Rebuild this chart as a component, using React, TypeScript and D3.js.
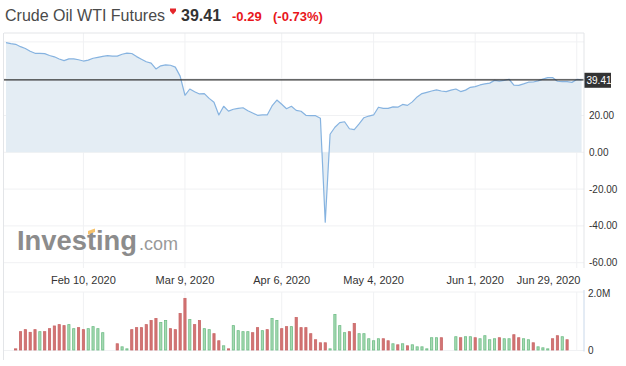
import React from "react";
import * as d3 from "d3";

// Price series (one value per chart row / trading session)
const prices: number[] = [
  59.6, 59.1, 58.7, 57.4, 56.4, 54.9, 53.8, 53.8, 53.6, 52.6,
  51.9, 50.7, 49.8, 50.8, 50.8, 50.3, 49.6, 50.1, 51.1, 51.6,
  52.1, 52.5, 52.3, 52.3, 53.3, 53.9, 53.7, 52.0, 50.6, 49.2,
  48.5, 45.3, 47.0, 47.5, 47.3, 46.3, 41.4, 31.0, 34.4, 32.9,
  31.7, 31.9, 29.3, 27.2, 20.3, 25.0, 22.4, 23.4, 23.9, 24.2,
  22.6, 21.4, 20.1, 20.3, 20.3, 25.2, 28.4, 26.1, 23.7, 25.0,
  22.8, 22.3, 20.1, 19.9, 19.9, 18.5, -38.0, 9.8, 13.6, 16.1,
  16.6, 12.8, 12.3, 15.4, 18.8, 19.7, 20.3, 24.5, 23.9, 23.9,
  24.7, 24.5, 26.0, 25.5, 27.4, 30.1, 31.9, 32.6, 33.3, 33.9,
  33.3, 33.0, 33.8, 34.4, 33.0, 33.8, 35.3, 35.7, 36.6, 37.2,
  37.6, 39.1, 38.7, 39.1, 39.7, 36.5, 36.4, 37.2, 38.1, 38.2,
  38.8, 39.8, 40.6, 40.6, 38.6, 38.4, 38.4, 38.0, 39.6, 39.41,
];

// Volume in millions (null = no bar)
const volumes: (number | null)[] = [
  null, null, 0.057, 0.644, 0.713, 0.621, 0.713, 0.644, 0.644, 0.747,
  0.839, 0.885, 0.851, 0.885, 0.747, 0.782, 0.713, 0.747, 0.816, 0.747,
  0.609, null, null, 0.23, 0.126, 0.057, 0.713, 0.782, 0.782, 0.885,
  1.023, 1.092, 0.954, 1.023, 0.747, 0.713, 1.264, 1.782, 1.057, 0.885,
  1.023, 0.747, 0.713, 0.575, 0.333, 0.161, 0.057, 0.851, 0.678, 0.644,
  0.644, 0.609, 0.782, 0.678, 0.713, 1.092, 1.023, 0.747, 0.816, 0.816,
  1.126, 0.782, 0.782, 0.575, 0.368, 0.264, 0.264, 0.057, 1.23, 0.851,
  0.609, 0.644, 0.92, 0.575, 0.575, 0.402, 0.333, 0.402, 0.402, 0.333,
  0.23, 0.195, 0.23, 0.161, 0.195, 0.126, 0.126, 0.057, 0.437, 0.437,
  0.437, null, null, 0.471, 0.437, 0.471, 0.471, 0.437, 0.402, 0.506,
  0.368, 0.402, 0.437, 0.402, 0.402, 0.54, 0.437, 0.402, 0.368, 0.264,
  0.126, 0.092, 0.057, 0.402, 0.506, 0.471, 0.368, null, null, null,
];

// u = up session (green bar), d = down session (red bar)
const volDir: string[] = [
  "dddddddudd",
  "ddduudduuu",
  "uddduudddd",
  "dduuddddud",
  "duudduduuu",
  "udduduuddu",
  "ddddddduuu",
  "udduuuuudd",
  "ududuuuuuu",
  "ddduduuduu",
  "uuduudduud",
  "uuuddudddd",
];

const tickRows: number[] = [16, 37, 57, 76, 97, 118];
const tickLabels: string[] = ["Feb 10, 2020", "Mar 9, 2020", "Apr 6, 2020", "May 4, 2020", "Jun 1, 2020", "Jun 29, 2020"];
const priceTicks: number[] = [20, 0, -20, -40, -60];
const priceGrid: number[] = [60, 40, 20, 0, -20, -40, -60];
const volTickLabels: string[] = ["2.0M", "0"];
const volTickValues: number[] = [2.0, 0];

const lastPrice = 39.41;
const title = "Crude Oil WTI Futures";
const changeText = "-0.29";
const changePct = "(-0.73%)";

const FONT = "'Liberation Sans', Arial, Helvetica, sans-serif";

export default function App() {
  const W = 626, H = 366;
  const left = 4, right = 584, top = 33;
  const priceBottom = 268;
  const volTop = 292, volBottom = 350.5;
  const dirs = volDir.join("");

  const x = d3.scaleLinear().domain([0, prices.length - 1]).range([6, 581.6]);
  const y = d3.scaleLinear().domain([-60, 60]).range([262.7, 41.9]);
  const yv = d3.scaleLinear().domain([0, 2.0]).range([volBottom, volTop]);

  const line = d3.line<number>().x((_, i) => x(i)).y((d) => y(d));
  const area = d3.area<number>().x((_, i) => x(i)).y0(y(0)).y1((d) => y(d));

  const grid = "#f0f1f3";
  const border = "#e3e5e8";

  return (
    <svg width={W} height={H} style={{ position: "absolute", left: 0, top: 0, background: "#fff" }} fontFamily={FONT}>
      {/* Header */}
      <text x={5} y={20.5} fontSize={16} fill="#4a4a4a">{title}</text>
      <path d="M170,8.5 H176 V11 L173,14.5 L170,11 Z" fill="#e4262b" />
      <text x={181} y={20.5} fontSize={16} fontWeight="bold" fill="#333">{lastPrice.toFixed(2)}</text>
      <text x={232} y={20.5} fontSize={13} fontWeight="bold" fill="#e8161b">{changeText}</text>
      <text x={273} y={20.5} fontSize={13} fontWeight="bold" fill="#e8161b">{changePct}</text>

      {/* Price pane grid */}
      {priceGrid.map((v) => (
        <line key={"hg" + v} x1={left} x2={right} y1={y(v)} y2={y(v)} stroke={grid} strokeWidth={1} />
      ))}
      {tickRows.map((r) => (
        <line key={"vg" + r} x1={x(r)} x2={x(r)} y1={top} y2={priceBottom} stroke={grid} strokeWidth={1} />
      ))}

      {/* Watermark */}
      <text x={17} y={249.5} fontSize={27} fontWeight="bold" fill="#8c8c8c" textLength={120} lengthAdjust="spacingAndGlyphs">Investing</text>
      <path d="M88,231 L95,228.5 L95,232 L88,234.5 Z" fill="#f6c26b" />
      <text x={139} y={249.5} fontSize={18} fill="#9a9a9a">.com</text>

      {/* Area + line */}
      <path d={area(prices) || ""} fill="#e4edf4" />
      <path d={line(prices) || ""} fill="none" stroke="#86b3e0" strokeWidth={1.2} strokeLinejoin="round" />

      {/* Last price line + label */}
      <line x1={left} x2={right} y1={y(lastPrice)} y2={y(lastPrice)} stroke="#333" strokeWidth={1.2} />
      <rect x={584} y={y(lastPrice) - 7} width={27} height={15} fill="#333" />
      <text x={586.5} y={y(lastPrice) + 0.5} dy="0.35em" fontSize={10} fill="#fff">{lastPrice.toFixed(2)}</text>

      {/* Y axis labels */}
      {priceTicks.map((v) => (
        <text key={"yl" + v} x={589} y={y(v)} dy="0.35em" fontSize={10} fill="#333">{v.toFixed(2)}</text>
      ))}

      {/* X axis labels */}
      {tickRows.map((r, i) => {
        const lbl = tickLabels[i];
        const halfW = lbl.length * 2.7;
        const cx = Math.min(x(r), right - 3 - halfW);
        return (
          <text key={"xl" + r} x={cx} y={283.5} fontSize={11} fill="#333" textAnchor="middle">{lbl}</text>
        );
      })}

      {/* Volume pane */}
      <line x1={left} x2={right} y1={volTop} y2={volTop} stroke={grid} />
      <line x1={left} x2={right} y1={volBottom} y2={volBottom} stroke={grid} />
      {tickRows.map((r) => (
        <line key={"vvg" + r} x1={x(r)} x2={x(r)} y1={volTop} y2={volBottom} stroke={grid} />
      ))}
      {volumes.map((v, i) => {
        if (v == null) return null;
        const up = dirs[i] === "u";
        const y0 = yv(v);
        return (
          <rect
            key={"vb" + i}
            x={x(i) - 1.1}
            y={y0}
            width={2.2}
            height={Math.max(0.5, volBottom - y0 - 0.5)}
            fill={up ? "#a6d9b3" : "#d27474"}
            stroke={up ? "#6fbd86" : "#c96666"}
            strokeWidth={0.8}
          />
        );
      })}
      {volTickValues.map((v, i) => (
        <text key={"vl" + i} x={588} y={yv(v) + (i === 0 ? 1 : 0)} dy="0.35em" fontSize={10} fill="#333">{volTickLabels[i]}</text>
      ))}

      {/* Borders */}
      <line x1={left} x2={right} y1={top} y2={top} stroke={border} />
      <line x1={3.5} x2={3.5} y1={top} y2={360} stroke={border} />
      <line x1={right} x2={right} y1={top} y2={priceBottom} stroke={border} />
      <line x1={right} x2={right} y1={volTop - 2} y2={volBottom + 1} stroke="#c9d8ea" />
    </svg>
  );
}
